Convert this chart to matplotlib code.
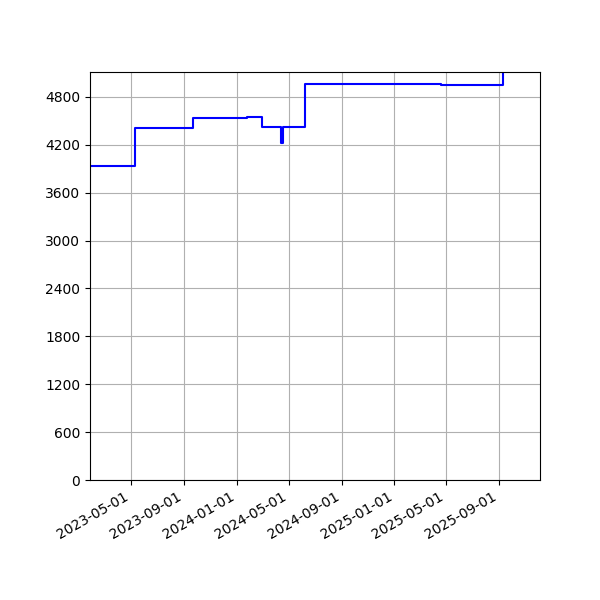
"""Step chart of a value over time."""
import numpy as np
import pandas as pd
import matplotlib
matplotlib.use("Agg")
import matplotlib.pyplot as plt
import matplotlib.dates as mdates
from matplotlib.ticker import MultipleLocator

# change points (date the value starts) and the value held from that date
change_dates = [
    "2023-01-26", "2023-05-10", "2023-09-22", "2024-01-26", "2024-02-28",
    "2024-04-14", "2024-04-17", "2024-06-07", "2025-04-19", "2025-09-09",
]
change_values = [3935, 4415, 4532, 4545, 4424, 4228, 4424, 4962, 4950, 5600]

X_LIMITS = ("2023-01-26", "2025-12-05")
Y_LIMITS = (0, 5113)


def main() -> None:
    dates = pd.to_datetime(change_dates)
    values = np.array(change_values)

    fig = plt.figure(figsize=(6, 6), dpi=100)
    ax = fig.add_axes([0.15, 0.2, 0.75, 0.68])
    ax.plot(dates, values, color="b", linewidth=1.5, drawstyle="steps-post")

    ax.set_xlim(pd.Timestamp(X_LIMITS[0]), pd.Timestamp(X_LIMITS[1]))
    ax.set_ylim(*Y_LIMITS)
    ax.yaxis.set_major_locator(MultipleLocator(600))
    ax.xaxis.set_major_locator(mdates.MonthLocator(bymonth=[1, 5, 9]))
    ax.xaxis.set_major_formatter(mdates.DateFormatter("%Y-%m-%d"))
    ax.grid(True)
    for label in ax.get_xticklabels():
        label.set_rotation(30)
        label.set_horizontalalignment("right")

    fig.savefig("out.png", dpi=100)
    plt.close(fig)


if __name__ == "__main__":
    main()
